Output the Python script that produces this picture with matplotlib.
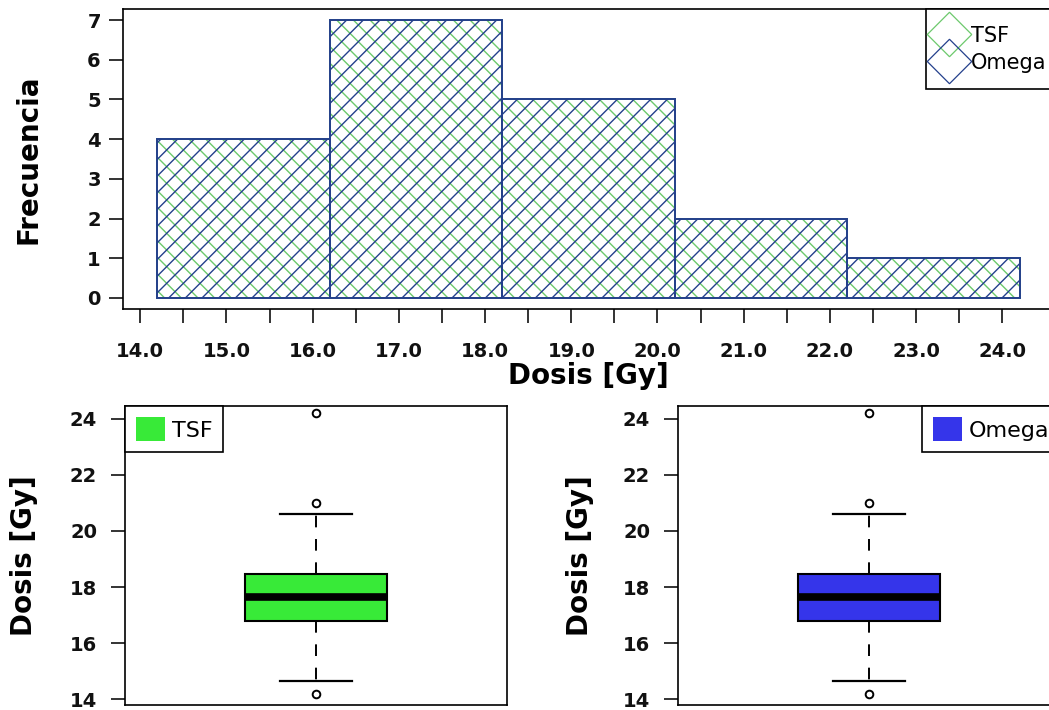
import matplotlib.pyplot as plt
from matplotlib.lines import Line2D
from matplotlib.patches import Patch

plt.rcParams['font.family'] = ['DejaVu Sans']

# histogram data (same dose bins for both systems)
bin_edges = [14.2, 16.2, 18.2, 20.2, 22.2, 24.2]
counts_tsf = [4, 7, 5, 2, 1]
counts_omega = [4, 7, 5, 2, 1]

x_ticks = [14.0, 14.5, 15.0, 15.5, 16.0, 16.5, 17.0, 17.5, 18.0, 18.5, 19.0,
           19.5, 20.0, 20.5, 21.0, 21.5, 22.0, 22.5, 23.0, 23.5, 24.0]
x_tick_labels = ['14.0', '', '15.0', '', '16.0', '', '17.0', '', '18.0', '', '19.0',
                 '', '20.0', '', '21.0', '', '22.0', '', '23.0', '', '24.0']
y_ticks_hist = [0, 1, 2, 3, 4, 5, 6, 7]
y_ticks_box = [14, 16, 18, 20, 22, 24]

# boxplot summaries
box_tsf = dict(med=17.64, q1=16.79, q3=18.46, whislo=14.64, whishi=20.62,
               fliers=[14.2, 21.0, 24.2])
box_omega = dict(med=17.64, q1=16.79, q3=18.46, whislo=14.64, whishi=20.62,
                 fliers=[14.2, 21.0, 24.2])

green_line = '#6cc96c'
blue_line = '#24408c'
green_fill = '#38ea38'
blue_fill = '#3535ea'

W, H = 1049, 710


def style_axis(ax, ypad):
	for s in ax.spines.values():
		s.set_linewidth(1.2)
	ax.tick_params(direction='out', length=10, width=1.2, labelsize=14, colors='#111111')
	ax.tick_params(axis='y', pad=ypad)
	for lab in ax.get_xticklabels() + ax.get_yticklabels():
		lab.set_fontweight('bold')


def plot_hist(fig):
	ax = fig.add_axes([123 / W, 1 - 309 / H, 931 / W, 300 / H])
	lefts = bin_edges[:-1]
	widths = [b - a for a, b in zip(bin_edges[:-1], bin_edges[1:])]
	ax.bar(lefts, counts_tsf, width=widths, align='edge', facecolor='white',
	       edgecolor=green_line, hatch='\\\\', linewidth=1.4)
	ax.bar(lefts, counts_omega, width=widths, align='edge', facecolor='none',
	       edgecolor=blue_line, hatch='//', linewidth=1.4)
	ax.set_xlim(13.8, 24.6)
	ax.set_ylim(-0.28, 7.28)
	ax.set_xticks(x_ticks)
	ax.set_xticklabels(x_tick_labels)
	ax.set_yticks(y_ticks_hist)
	style_axis(ax, 6)
	ax.tick_params(axis='x', pad=14)
	ax.set_ylabel('Frecuencia', fontsize=20, fontweight='bold')
	ax.yaxis.set_label_coords(-0.086, 0.5)
	ax.set_xlabel('Dosis [Gy]', fontsize=20, fontweight='bold')
	ax.xaxis.set_label_coords(0.5, -0.175)

	handles = [Line2D([], [], marker=(4, 0, 0), markersize=32, linestyle='none',
	                  markerfacecolor='none', markeredgecolor=green_line, markeredgewidth=0.9),
	           Line2D([], [], marker=(4, 0, 0), markersize=32, linestyle='none',
	                  markerfacecolor='none', markeredgecolor=blue_line, markeredgewidth=0.9)]
	leg = ax.legend(handles, ['TSF', 'Omega'], loc='upper right', bbox_to_anchor=(1.01, 1),
	                borderaxespad=0, fancybox=False, edgecolor='black', framealpha=1,
	                fontsize=15, numpoints=1, handlelength=0.6, handletextpad=0.75,
	                borderpad=0.8, labelspacing=0.34)
	leg.get_frame().set_linewidth(1.2)


def plot_box(fig, left, stats, color, name, label_x, legend_loc):
	ax = fig.add_axes([left / W, 5 / H, 382 / W, 299 / H])
	ax.bxp([stats], positions=[1], widths=0.372, capwidths=0.19, patch_artist=True,
	       boxprops=dict(facecolor=color, edgecolor='black', linewidth=1.5),
	       medianprops=dict(color='black', linewidth=5.5, solid_capstyle='butt'),
	       whiskerprops=dict(color='black', linewidth=1.4, linestyle=(0, (6, 6))),
	       capprops=dict(color='black', linewidth=1.6),
	       flierprops=dict(marker='o', markerfacecolor='none', markeredgecolor='black',
	                       markersize=5.5, markeredgewidth=1.4))
	ax.set_xlim(0.5, 1.5)
	ax.set_ylim(13.79, 24.46)
	ax.set_yticks(y_ticks_box)
	ax.set_xticks([])
	style_axis(ax, 10)
	ax.set_ylabel('Dosis [Gy]', fontsize=20, fontweight='bold')
	ax.yaxis.set_label_coords(label_x, 0.5)

	leg = ax.legend([Patch(facecolor=color, edgecolor='none')], [name], loc=legend_loc,
	                borderaxespad=0, fancybox=False, edgecolor='black', framealpha=1,
	                fontsize=16, handlelength=1.3, handleheight=1.3, handletextpad=0.3,
	                borderpad=0.5)
	leg.get_frame().set_linewidth(1.2)


if __name__ == "__main__":
	fig = plt.figure(figsize=(W / 100, H / 100), dpi=100)
	plot_hist(fig)
	plot_box(fig, 125, box_tsf, green_fill, 'TSF', -0.228, 'upper left')
	plot_box(fig, 678, box_omega, blue_fill, 'Omega', -0.22, 'upper right')
	fig.savefig('out.png', dpi=100)
